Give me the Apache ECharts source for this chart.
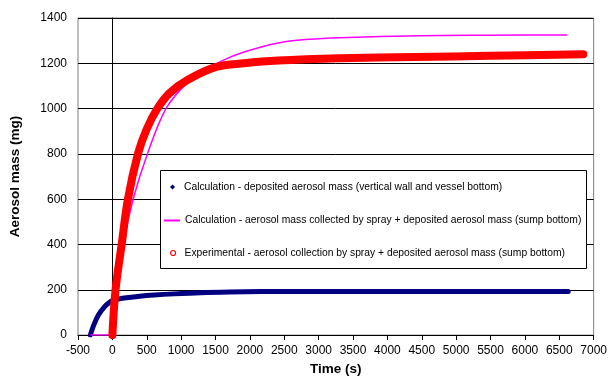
<!DOCTYPE html>
<html>
<head>
<meta charset="utf-8">
<script src="https://cdn.jsdelivr.net/npm/echarts@6/dist/echarts.min.js"></script>
<style>
  html, body { margin: 0; padding: 0; background: #fff; }
  #chart { width: 610px; height: 381px; }
</style>
</head>
<body>
<div id="chart"></div>
<script>
// Axis ticks
const timeTicks = [-500, 0, 500, 1000, 1500, 2000, 2500, 3000, 3500, 4000, 4500, 5000, 5500, 6000, 6500, 7000];
const massTicks = [0, 200, 400, 600, 800, 1000, 1200, 1400];

// Calculation - deposited aerosol mass (vertical wall and vessel bottom)
const depositedTime = [-320, -270, -203, -112, -40, 0, 100, 203, 400, 608, 900, 1284, 1700, 2185, 3500, 5000, 6630];
const depositedMass = [0, 45, 89, 126, 145, 152, 160, 165, 172, 177, 182, 187, 190, 192, 193, 193, 193];

// Calculation - spray collection + deposited mass (sump bottom)
const sprayCalcTime = [-320, 0, 70, 158, 302, 509, 780, 1104, 1374, 1600, 1915, 2411, 2860, 3311, 4482, 5500, 6620];
const sprayCalcMass = [0, 0, 200, 400, 600, 800, 1000, 1118, 1172, 1212, 1250, 1290, 1306, 1313, 1322, 1324, 1325];

// Experimental - spray collection + deposited mass (sump bottom)
const experimentTime = [0, 46, 135, 226, 372, 500, 654, 834, 1104, 1509, 1915, 2411, 3311, 4400, 5500, 6850];
const experimentMass = [0, 200, 400, 600, 800, 910, 1000, 1069, 1128, 1184, 1200, 1212, 1222, 1228, 1233, 1240];

const seriesNames = [
  'Calculation - deposited aerosol mass (vertical wall and vessel bottom)',
  'Calculation - aerosol mass collected by spray + deposited aerosol mass (sump bottom)',
  'Experimental - aerosol collection by spray + deposited aerosol mass (sump bottom)'
];

const zip = (xs, ys) => xs.map((x, i) => [x, ys[i]]);
const FONT = '"Liberation Sans", Arial, sans-serif';
const plainNumber = v => String(v);

const chart = echarts.init(document.getElementById('chart'), null, { renderer: 'canvas' });

const legendText = { fontFamily: FONT, fontSize: 10.3, color: '#000', lineHeight: 14 };
const legendBase = {
  orient: 'vertical',
  padding: 0,
  itemGap: 0,
  selectedMode: false,
  z: 10,
  textStyle: legendText
};

chart.setOption({
  animation: false,
  backgroundColor: '#fff',
  grid: {
    left: 42, right: 13, top: 18, bottom: 44,
    show: true, borderColor: '#808080', borderWidth: 1, backgroundColor: '#fff'
  },
  xAxis: {
    type: 'value',
    min: timeTicks[0],
    max: timeTicks[timeTicks.length - 1],
    interval: timeTicks[1] - timeTicks[0],
    name: 'Time (s)',
    nameLocation: 'middle',
    nameGap: 23,
    nameTextStyle: { fontFamily: FONT, fontSize: 13.5, fontWeight: 'bold', color: '#000' },
    axisLine: { show: true, onZero: false, lineStyle: { color: '#000', width: 1 } },
    axisTick: { show: true, inside: false, length: 5, lineStyle: { color: '#000' } },
    axisLabel: { fontFamily: FONT, fontSize: 12, color: '#000', margin: 10, formatter: plainNumber },
    splitLine: { show: false }
  },
  yAxis: {
    type: 'value',
    min: massTicks[0],
    max: massTicks[massTicks.length - 1],
    interval: massTicks[1] - massTicks[0],
    name: 'Aerosol mass (mg)',
    nameLocation: 'middle',
    nameGap: 56,
    nameTextStyle: { fontFamily: FONT, fontSize: 13.5, fontWeight: 'bold', color: '#000' },
    axisLine: { show: true, onZero: true, lineStyle: { color: '#000', width: 1 } },
    axisTick: { show: true, inside: false, length: 6, lineStyle: { color: '#000' } },
    axisLabel: { fontFamily: FONT, fontSize: 12, color: '#000', margin: 11, formatter: plainNumber },
    splitLine: { show: true, lineStyle: { color: '#000', width: 1 } }
  },
  legend: [
    Object.assign({}, legendBase, {
      left: 170, top: 180,
      itemWidth: 5, itemHeight: 5,
      data: [{ name: seriesNames[0], icon: 'diamond', itemStyle: { color: '#000080' } }],
      textStyle: Object.assign({}, legendText, { padding: [0, 0, 0, 4] })
    }),
    Object.assign({}, legendBase, {
      left: 164, top: 213.5,
      itemWidth: 16, itemHeight: 2,
      data: [{ name: seriesNames[1], icon: 'rect', itemStyle: { color: '#ff00ff' } }]
    }),
    Object.assign({}, legendBase, {
      left: 170, top: 246,
      itemWidth: 5, itemHeight: 5,
      data: [{ name: seriesNames[2], icon: 'circle', itemStyle: { color: '#fff', borderColor: '#ff0000', borderWidth: 1.2 } }],
      textStyle: Object.assign({}, legendText, { padding: [0, 0, 0, 4] })
    })
  ],
  graphic: [{
    type: 'rect',
    z: 8,
    shape: { x: 160.5, y: 170.5, width: 426, height: 98 },
    style: { fill: '#fff', stroke: '#000', lineWidth: 1 }
  }],
  series: [
    {
      name: seriesNames[0],
      type: 'line',
      data: zip(depositedTime, depositedMass),
      showSymbol: false,
      smooth: 0.35,
      lineStyle: { color: '#000080', width: 5, cap: 'round', join: 'round' },
      itemStyle: { color: '#000080' },
      z: 2
    },
    {
      name: seriesNames[1],
      type: 'line',
      data: zip(sprayCalcTime, sprayCalcMass),
      showSymbol: false,
      smooth: 0.35,
      lineStyle: { color: '#ff00ff', width: 1.5 },
      itemStyle: { color: '#ff00ff' },
      z: 3
    },
    {
      name: seriesNames[2],
      type: 'line',
      data: zip(experimentTime, experimentMass),
      showSymbol: false,
      smooth: 0.35,
      lineStyle: { color: '#ff0000', width: 8, cap: 'round', join: 'round' },
      itemStyle: { color: '#ff0000' },
      z: 4
    }
  ]
});
</script>
</body>
</html>
